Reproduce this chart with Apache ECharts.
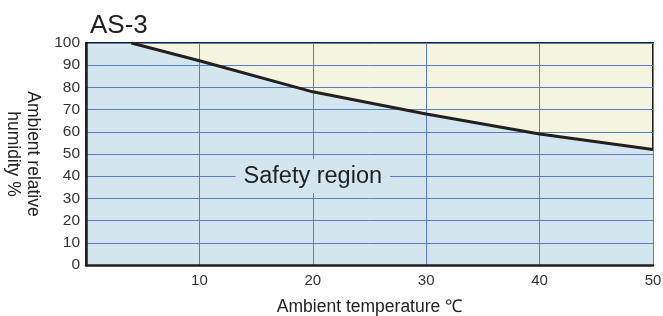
<!DOCTYPE html>
<html>
<head>
<meta charset="utf-8">
<script src="https://cdn.jsdelivr.net/npm/echarts@6/dist/echarts.min.js"></script>
<style>
  html, body { margin: 0; padding: 0; background: #fff; }
  #chart { width: 663px; height: 316px; }
</style>
</head>
<body>
<div id="chart"></div>
<script>
// boundary curve
const temps = [4, 10, 20, 30, 40, 50]
const humidity = [100, 92, 78, 68, 59, 52]
const xTicks = [10, 20, 30, 40, 50]
const yTicks = [0, 10, 20, 30, 40, 50, 60, 70, 80, 90, 100]
const regionLabel = 'Safety region'
const regionLabelAt = [20, 40]

const xMin = 0, xMax = 50
const yMin = 0, yMax = 100

const curve = temps.map((t, i) => [t, humidity[i]])
// fill reaches the left edge of the plot at the first humidity value
const areaData = [[xMin, humidity[0]]].concat(curve)

const chart = echarts.init(document.getElementById('chart'))

const option = {
  backgroundColor: '#fff',
  animation: false,
  title: {
    text: 'AS-3',
    left: 85,
    top: 8,
    textStyle: { fontFamily: 'Liberation Sans', fontSize: 26, fontWeight: 'normal', color: '#222' }
  },
  grid: {
    left: 86,
    right: 10,
    top: 43,
    bottom: 51,
    containLabel: false,
    outerBoundsMode: 'none',
    show: true,
    backgroundColor: '#f5f4e1',
    borderColor: '#231f1c',
    borderWidth: 2
  },
  xAxis: {
    type: 'value',
    min: xMin,
    max: xMax,
    interval: 10,
    z: 3,
    name: 'Ambient temperature ℃',
    nameLocation: 'middle',
    nameGap: 33,
    nameTextStyle: { fontFamily: 'Liberation Sans', fontSize: 17.5, color: '#222' },
    axisLine: { show: true, lineStyle: { color: '#231f1c', width: 2.5 } },
    axisTick: { show: false },
    axisLabel: {
      showMinLabel: false,
      margin: 8,
      fontFamily: 'Liberation Sans',
      fontSize: 15,
      color: '#333',
      formatter: (v) => (xTicks.includes(v) ? String(v) : '')
    },
    splitLine: { show: true, lineStyle: { color: '#5a7ec2', width: 1 } }
  },
  yAxis: {
    type: 'value',
    min: yMin,
    max: yMax,
    interval: 10,
    z: 3,
    name: 'Ambient relative\nhumidity %',
    nameLocation: 'middle',
    nameRotate: -90,
    nameGap: 41,
    nameTextStyle: { fontFamily: 'Liberation Sans', fontSize: 17.5, color: '#222', lineHeight: 20 },
    axisLine: { show: true, lineStyle: { color: '#231f1c', width: 2.5 } },
    axisTick: { show: false },
    axisLabel: {
      margin: 6,
      fontFamily: 'Liberation Sans',
      fontSize: 15.5,
      color: '#333',
      formatter: (v) => (yTicks.includes(v) ? String(v) : '')
    },
    splitLine: { show: true, lineStyle: { color: '#5a7ec2', width: 1 } }
  },
  series: [
    {
      name: 'area',
      type: 'line',
      z: 1,
      data: areaData,
      showSymbol: false,
      silent: true,
      lineStyle: { width: 0 },
      areaStyle: { color: '#d3e6f0', opacity: 1, origin: 'start' }
    },
    {
      name: 'boundary',
      type: 'line',
      z: 4,
      data: curve,
      showSymbol: false,
      lineStyle: { color: '#231f1c', width: 3 },
      markPoint: {
        symbol: 'circle',
        symbolSize: 1,
        itemStyle: { color: 'rgba(0,0,0,0)' },
        label: {
          show: true,
          position: 'inside',
          formatter: regionLabel,
          fontFamily: 'Liberation Sans',
          fontSize: 23.5,
          color: '#222',
          backgroundColor: '#d3e6f0',
          padding: [5, 8]
        },
        data: [{ coord: regionLabelAt }]
      }
    }
  ]
}

chart.setOption(option)
</script>
</body>
</html>
